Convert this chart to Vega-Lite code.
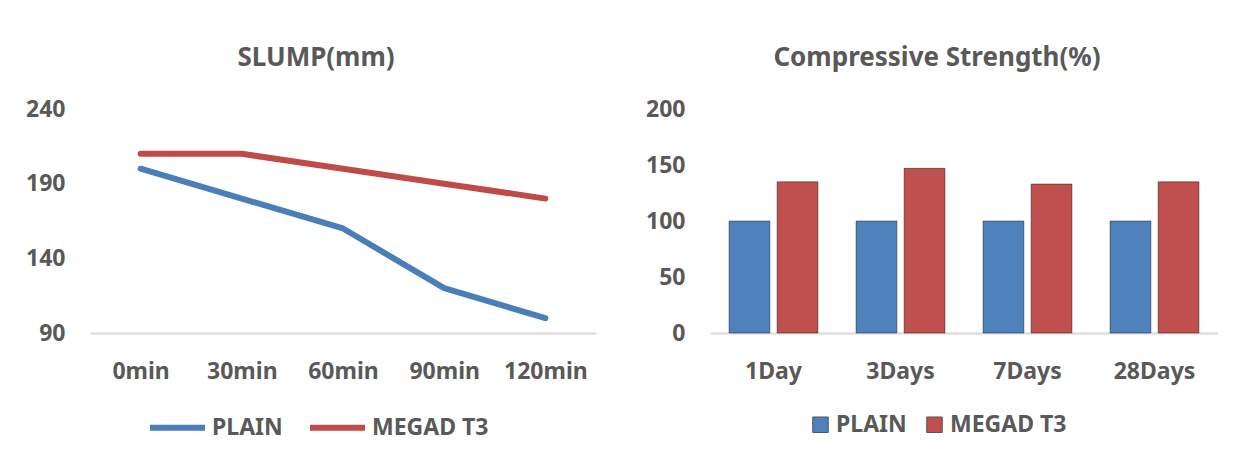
{
  "$schema": "https://vega.github.io/schema/vega-lite/v6.json",
  "padding": {"left": 0, "top": 45, "right": 0, "bottom": 15},
  "background": "white",
  "spacing": 24,
  "resolve": {"scale": {"color": "independent"}, "legend": {"color": "independent"}},
  "config": {
    "view": {"stroke": null},
    "font": "Noto Sans",
    "axis": {"labelFont": "Noto Sans", "labelFontSize": 23, "labelFontWeight": "bold", "labelColor": "#595959", "ticks": false, "grid": false, "title": null, "domain": false},
    "title": {"font": "Noto Sans", "fontSize": 26, "fontWeight": "bold", "color": "#595959", "anchor": "middle", "offset": 27},
    "legend": {"labelFont": "Noto Sans", "labelFontSize": 23, "labelFontWeight": "bold", "labelColor": "#595959", "title": null, "padding": 0, "labelLimit": 300}
  },
  "hconcat": [
    {
      "width": 506,
      "height": 224,
      "title": {"text": "SLUMP(mm)", "dx": -27},
      "data": {"values": [
        {"time": "0min", "series": "PLAIN", "slump": 200},
        {"time": "30min", "series": "PLAIN", "slump": 180},
        {"time": "60min", "series": "PLAIN", "slump": 160},
        {"time": "90min", "series": "PLAIN", "slump": 120},
        {"time": "120min", "series": "PLAIN", "slump": 100},
        {"time": "0min", "series": "MEGAD T3", "slump": 210},
        {"time": "30min", "series": "MEGAD T3", "slump": 210},
        {"time": "60min", "series": "MEGAD T3", "slump": 200},
        {"time": "90min", "series": "MEGAD T3", "slump": 190},
        {"time": "120min", "series": "MEGAD T3", "slump": 180}
      ]},
      "mark": {"type": "line", "strokeWidth": 6, "strokeCap": "round", "strokeJoin": "round"},
      "encoding": {
        "x": {"field": "time", "type": "ordinal", "sort": ["0min", "30min", "60min", "90min", "120min"], "scale": {"type": "point", "padding": 0.5}, "axis": {"labelAngle": 0, "labelPadding": 27, "domain": true, "domainColor": "#D9D9D9", "domainWidth": 2}},
        "y": {"field": "slump", "type": "quantitative", "scale": {"domain": [90, 240], "nice": false, "zero": false}, "axis": {"values": [90, 140, 190, 240], "labelPadding": 25, "minExtent": 90, "maxExtent": 90}},
        "color": {"field": "series", "type": "nominal", "sort": ["PLAIN", "MEGAD T3"], "scale": {"domain": ["PLAIN", "MEGAD T3"], "range": ["#4A7EBB", "#BE4B48"]},
          "legend": {"orient": "none", "legendX": 57, "legendY": 288, "direction": "horizontal", "symbolType": "stroke", "symbolSize": 3025, "symbolStrokeWidth": 6, "columnPadding": 15, "labelOffset": 4}}
      }
    },
    {
      "width": 508,
      "height": 224,
      "title": {"text": "Compressive Strength(%)", "dx": -27},
      "data": {"values": [
        {"age": "1Day", "series": "PLAIN", "strength": 100},
        {"age": "3Days", "series": "PLAIN", "strength": 100},
        {"age": "7Days", "series": "PLAIN", "strength": 100},
        {"age": "28Days", "series": "PLAIN", "strength": 100},
        {"age": "1Day", "series": "MEGAD T3", "strength": 135},
        {"age": "3Days", "series": "MEGAD T3", "strength": 147},
        {"age": "7Days", "series": "MEGAD T3", "strength": 133},
        {"age": "28Days", "series": "MEGAD T3", "strength": 135}
      ]},
      "mark": {"type": "bar", "stroke": "#000000", "strokeOpacity": 0.4, "strokeWidth": 1},
      "encoding": {
        "x": {"field": "age", "type": "nominal", "sort": ["1Day", "3Days", "7Days", "28Days"], "scale": {"paddingInner": 0.3, "paddingOuter": 0.15}, "axis": {"labelAngle": 0, "labelPadding": 27, "domain": true, "domainColor": "#D9D9D9", "domainWidth": 2}},
        "xOffset": {"field": "series", "type": "nominal", "sort": ["PLAIN", "MEGAD T3"], "scale": {"paddingInner": 0.15, "paddingOuter": 0}},
        "y": {"field": "strength", "type": "quantitative", "scale": {"domain": [0, 200], "nice": false}, "axis": {"values": [0, 50, 100, 150, 200], "labelPadding": 25, "minExtent": 90, "maxExtent": 90}},
        "color": {"field": "series", "type": "nominal", "sort": ["PLAIN", "MEGAD T3"], "scale": {"domain": ["PLAIN", "MEGAD T3"], "range": ["#4F81BD", "#C0504D"]},
          "legend": {"orient": "none", "legendX": 99, "legendY": 304, "direction": "horizontal", "symbolType": "square", "symbolSize": 240, "symbolStrokeWidth": 1, "symbolStrokeColor": "#555555", "columnPadding": 16, "labelOffset": 4}}
      }
    }
  ]
}
